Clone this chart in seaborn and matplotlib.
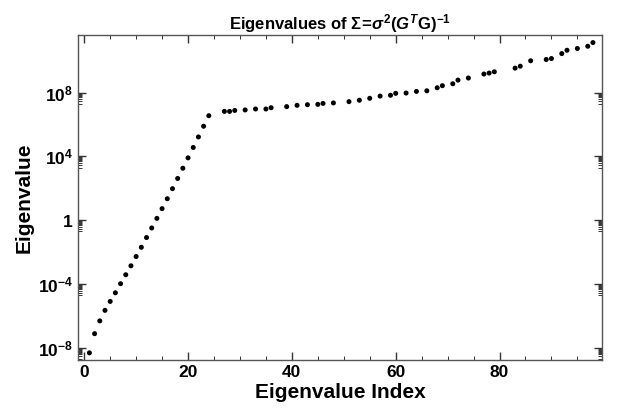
import numpy as np
import pandas as pd
import matplotlib
matplotlib.use("Agg")
import matplotlib.pyplot as plt
import seaborn as sns
from matplotlib.ticker import FixedLocator, FixedFormatter

# eigenvalue index and log10(eigenvalue)
idx = [1, 2, 3, 4, 5, 6, 7, 8, 9, 10, 11, 12, 13, 14, 15, 16, 17, 18, 19, 20,
       21, 22, 23, 24, 27, 28, 29, 31, 33, 35, 36, 39, 41, 43, 45, 46, 48, 51,
       53, 55, 57, 59, 60, 62, 64, 66, 68, 69, 71, 72, 74, 77, 78, 79, 83, 84,
       86, 89, 90, 92, 93, 95, 97, 98]
log_eig = [-8.3, -7.1, -6.3, -5.64, -5.08, -4.54, -3.97, -3.41, -2.85, -2.27,
           -1.69, -1.08, -0.48, 0.12, 0.73, 1.35, 1.98, 2.62, 3.26, 3.91,
           4.56, 5.22, 5.89, 6.55, 6.82, 6.82, 6.88, 6.91, 6.97, 6.97, 7.05,
           7.12, 7.20, 7.24, 7.26, 7.32, 7.35, 7.43, 7.52, 7.64, 7.78, 7.83,
           7.95, 7.97, 8.07, 8.11, 8.30, 8.43, 8.55, 8.78, 8.91, 9.16, 9.22,
           9.30, 9.53, 9.65, 9.99, 10.07, 10.13, 10.44, 10.65, 10.76, 10.90,
           11.13]

y_major = [1e-8, 1e-4, 1, 1e4, 1e8]
y_labels = [r"$10^{-8}$", r"$10^{-4}$", r"$1$", r"$10^{4}$", r"$10^{8}$"]
x_major = [0, 20, 40, 60, 80, 100]

dp = pd.DataFrame({"Index": idx, "Eigenvalue": 10.0 ** np.array(log_eig)})

sns.set_style("ticks")
plt.rcParams["font.family"] = ["Liberation Sans", "DejaVu Sans"]
plt.rcParams["font.weight"] = "bold"
plt.rcParams["text.color"] = "black"
plt.rcParams["mathtext.fontset"] = "custom"
plt.rcParams["mathtext.rm"] = "Liberation Sans:bold"
plt.rcParams["mathtext.it"] = "Liberation Sans:italic:bold"
plt.rcParams["mathtext.bf"] = "Liberation Sans:bold"

fig = plt.figure(figsize=(6.19, 4.15), dpi=100, facecolor="white")
ax = fig.add_axes([0.126, 0.1325, 0.847, 0.783])

sns.scatterplot(data=dp, x="Index", y="Eigenvalue", color="black", s=13,
                edgecolor="none", ax=ax)
ax.set_yscale("log")
ax.set_xlim(-1.2, 99.8)
ax.set_ylim(10 ** -8.75, 10 ** 11.6)

ax.xaxis.set_major_locator(FixedLocator(x_major))
ax.xaxis.set_minor_locator(FixedLocator(np.arange(0, 101, 5)))
ax.yaxis.set_major_locator(FixedLocator(y_major))
ax.yaxis.set_major_formatter(FixedFormatter(y_labels))
minors = [m * v / 10 for v in y_major for m in range(2, 10)]
ax.yaxis.set_minor_locator(FixedLocator(minors))
ax.yaxis.set_minor_formatter(FixedFormatter([""] * len(minors)))

ax.tick_params(which="both", direction="in", top=True, right=True,
               color="#333333", labelcolor="black", labelsize=12.5)
ax.tick_params(which="major", length=6, width=1)
ax.tick_params(which="minor", length=3, width=0.7)
for lab in ax.get_xticklabels() + ax.get_yticklabels():
    lab.set_fontweight("bold")
for sp in ax.spines.values():
    sp.set_color("#555555")
    sp.set_linewidth(1)

ax.set_xlabel("Eigenvalue Index", fontsize=15, fontweight="bold",
              color="black", labelpad=2)
ax.set_ylabel("Eigenvalue", fontsize=15, fontweight="bold",
              color="black", labelpad=3)
ax.set_title(r"Eigenvalues of $\Sigma\!=\!\sigma^2(G^{T}\mathrm{G})^{-1}$",
             fontsize=12, fontweight="bold", color="black", pad=4)

fig.savefig("out.png", dpi=100)
